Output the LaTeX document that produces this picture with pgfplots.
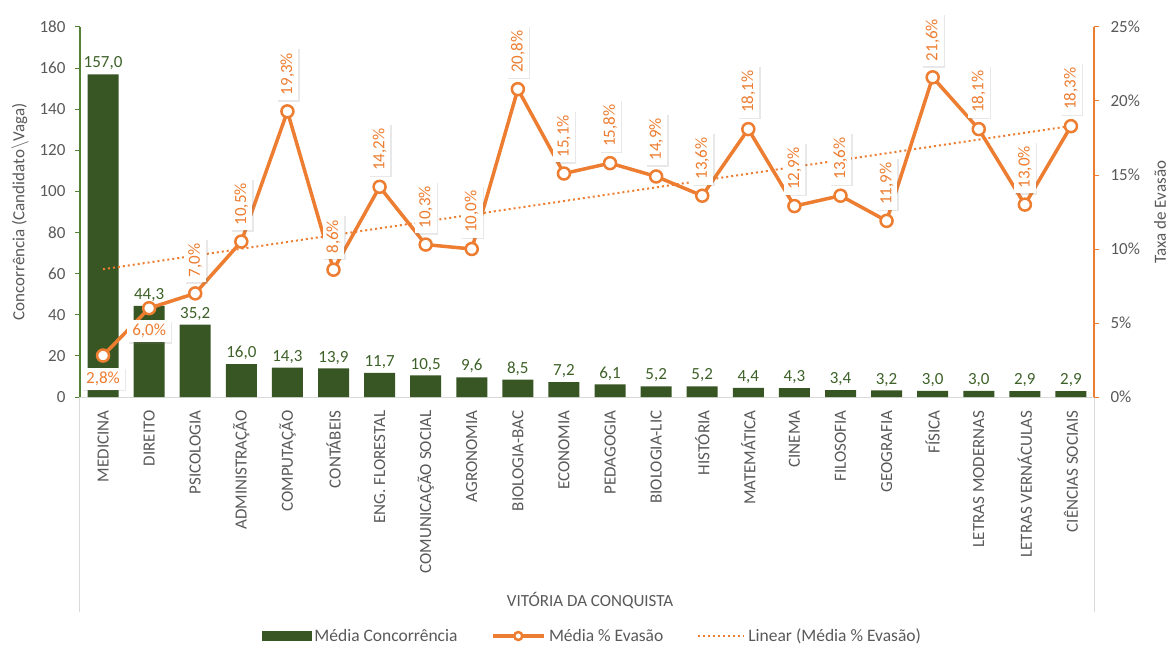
\documentclass[border=0pt]{standalone}
\usepackage{pgfplots}
\pgfplotsset{compat=1.18}
\usepackage{pgfplotstable}
\usepackage{fontspec}
\setmainfont{Carlito}
\usetikzlibrary{shadows}
\definecolor{barg}{HTML}{375623}
\definecolor{labg}{HTML}{3D6128}
\definecolor{axg}{HTML}{548235}
\definecolor{org}{HTML}{ED7D31}
\definecolor{txt}{HTML}{595959}
\definecolor{lgray}{HTML}{D9D9D9}

\pgfplotsset{
  lineleg/.style={legend image code/.code={\draw[##1, mark size=4pt, mark repeat=2, mark phase=2] plot coordinates {(0pt,0pt) (25pt,0pt) (51pt,0pt)};}},
  trendleg/.style={legend image code/.code={\draw[##1] (0pt,0pt) -- (46pt,0pt);}},
}
\tikzset{
  evlab/.style={fill=white, text=org, inner xsep=5pt, inner ysep=4pt,
    drop shadow={shadow xshift=1.5pt, shadow yshift=-1.5pt, opacity=0.18}},
}

\pgfplotstableread{
x conc evas
0 157.0 2.8
1 44.3 6.0
2 35.2 7.0
3 16.0 10.5
4 14.3 19.3
5 13.9 8.6
6 11.7 14.2
7 10.5 10.3
8 9.6 10.0
9 8.5 20.8
10 7.2 15.1
11 6.1 15.8
12 5.2 14.9
13 5.2 13.6
14 4.4 18.1
15 4.3 12.9
16 3.4 13.6
17 3.2 11.9
18 3.0 21.6
19 3.0 18.1
20 2.9 13.0
21 2.9 18.3
}\data

\begin{document}
\begin{tikzpicture}[font=\fontsize{17}{20}\selectfont]
\useasboundingbox (0,0) rectangle (1168pt,646pt);
\begin{axis}[
  at={(80pt,249pt)}, anchor=south west, scale only axis,
  width=1014pt, height=370pt,
  xmin=-0.5, xmax=21.5, ymin=0, ymax=180,
  clip=false,
  axis x line*=bottom, axis y line*=left,
  x axis line style={draw=lgray, line width=1pt, -},
  y axis line style={draw=axg, line width=1.2pt, -},
  xtick={0,...,21},
  xticklabels={MEDICINA, DIREITO, PSICOLOGIA, ADMINISTRAÇÃO, COMPUTAÇÃO, CONTÁBEIS, ENG. FLORESTAL, COMUNICAÇÃO SOCIAL, AGRONOMIA, BIOLOGIA-BAC, ECONOMIA, PEDAGOGIA, BIOLOGIA-LIC, HISTÓRIA, MATEMÁTICA, CINEMA, FILOSOFIA, GEOGRAFIA, FÍSICA, LETRAS MODERNAS, LETRAS VERNÁCULAS, CIÊNCIAS SOCIAIS},
  xticklabel style={rotate=90, anchor=east, text=txt, xshift=-5pt},
  x tick style={draw=none},
  ytick={0,20,...,180},
  y tick style={draw=axg, line width=1pt},
  tick align=outside, major tick length=5pt,
  yticklabel style={text=txt, xshift=-6pt},
  /pgf/number format/assume math mode=true,
  ylabel={Concorrência (Candidato$\backslash$Vaga)},
  ylabel style={at={(axis description cs:-0.059,0.5)}, anchor=center, text=txt},
  xlabel={VITÓRIA DA CONQUISTA},
  xlabel style={at={(axis description cs:0.503,-0.549)}, anchor=center, text=txt},
  ybar, bar width=31pt,
  nodes near coords={\pgfmathprintnumber[fixed, fixed zerofill, precision=1, use comma]{\pgfplotspointmeta}},
  nodes near coords style={text=labg, inner sep=4pt},
]
\addplot[fill=barg, draw=none] table[x=x, y=conc] \data;
\draw[lgray, line width=1pt] (rel axis cs:0,0) -- (rel axis cs:0,-0.581);
\draw[lgray, line width=1pt] (rel axis cs:1,0) -- (rel axis cs:1,-0.581);
\end{axis}

\begin{axis}[
  at={(80pt,249pt)}, anchor=south west, scale only axis,
  width=1014pt, height=370pt,
  xmin=-0.5, xmax=21.5, ymin=0, ymax=25,
  clip=false,
  axis x line=none, axis y line*=right,
  y axis line style={draw=org, line width=1.2pt, -},
  ytick={0,5,...,25},
  yticklabel={\pgfmathprintnumber{\tick}\%},
  y tick style={draw=org, line width=1pt},
  tick align=outside, major tick length=5pt,
  yticklabel style={text=txt, xshift=8pt},
  /pgf/number format/assume math mode=true,
  ylabel={Taxa de Evasão},
  ylabel style={at={(axis description cs:1.065,0.5)}, anchor=center, text=txt},
  legend style={at={(0.5054,-0.646)}, anchor=center, draw=none, fill=none,
    legend columns=3, text=txt, font=\fontsize{17.5}{20}\selectfont,
    /tikz/every even column/.append style={column sep=32pt},
    /tikz/every odd column/.append style={column sep=1pt}},
  legend cell align=left,
]
\addlegendimage{legend image code/.code={\fill[barg] (0pt,-4.5pt) rectangle (49pt,4.5pt);}}
\addlegendentry{Média Concorrência}
\addplot[org, line width=3.5pt, mark=*, mark size=6pt,
  mark options={fill=white, draw=org, line width=2.5pt}, lineleg]
  table[x=x, y=evas] \data;
\addlegendentry{Média \% Evasão}
\addplot[org, line width=2pt, dash pattern=on 2pt off 3pt, trendleg]
  table[x=x, y={create col/linear regression={y=evas}}] \data;
\addlegendentry{Linear (Média \% Evasão)}
% labels
\addplot[draw=none, mark=none, forget plot, skip coords between index={2}{22},
  nodes near coords={\pgfmathprintnumber[fixed, fixed zerofill, precision=1, use comma]{\pgfplotspointmeta}\%},
  nodes near coords style={anchor=north, yshift=-12pt, evlab}]
  table[x=x, y=evas] \data;
\addplot[draw=none, mark=none, forget plot, skip coords between index={0}{2},
  nodes near coords={\pgfmathprintnumber[fixed, fixed zerofill, precision=1, use comma]{\pgfplotspointmeta}\%},
  nodes near coords style={yshift=11pt, rotate=90, anchor=west, evlab}]
  table[x=x, y=evas] \data;
\end{axis}
\end{tikzpicture}
\end{document}
